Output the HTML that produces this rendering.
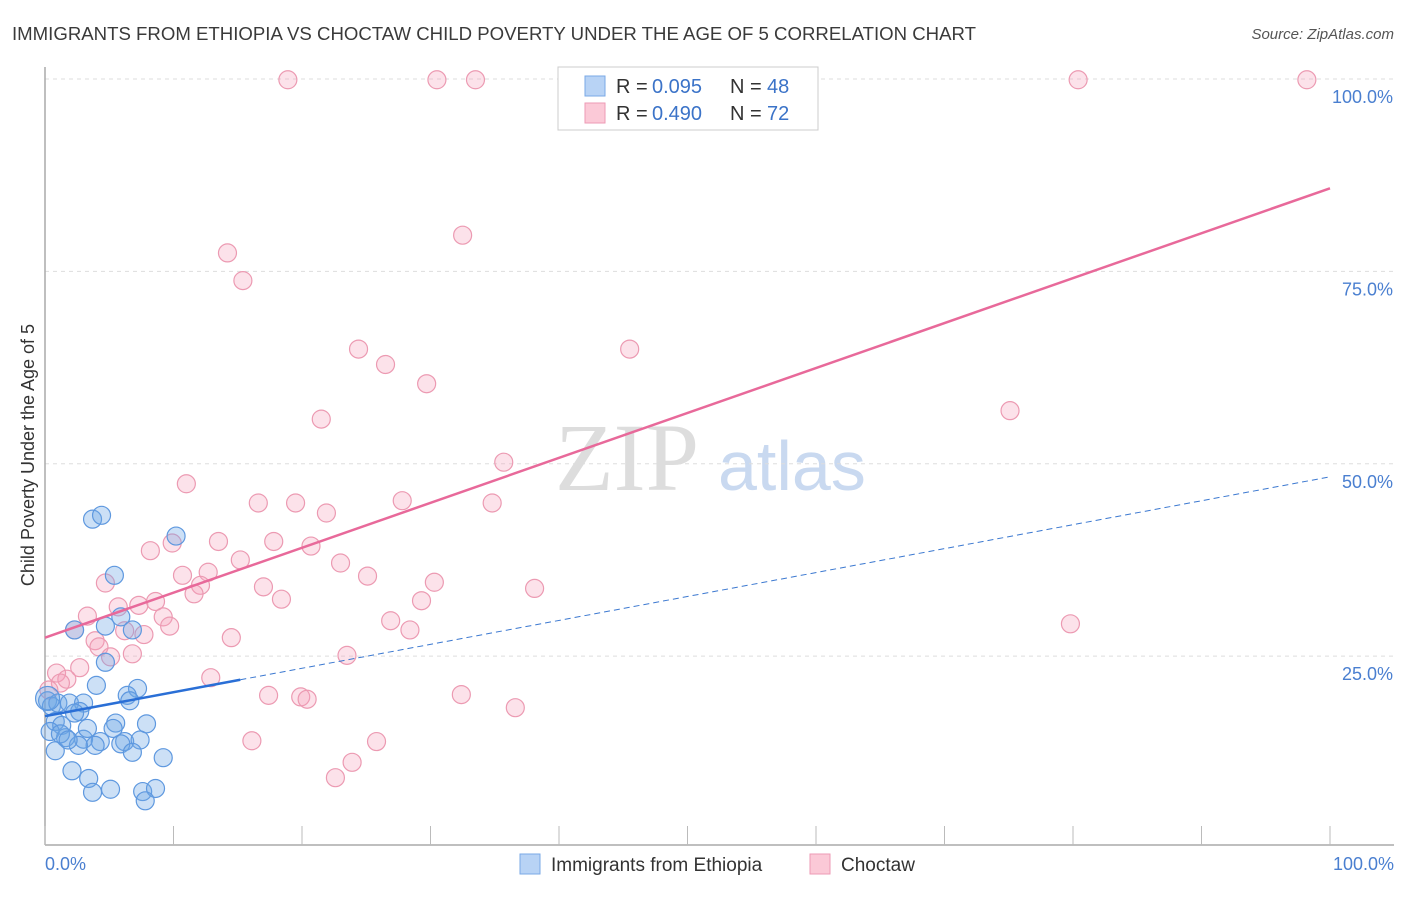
<!DOCTYPE html>
<html><head><meta charset="utf-8"><style>
body{margin:0;background:#fff;font-family:"Liberation Sans",sans-serif;}
</style></head><body>
<svg id="chart" width="1406" height="892" xmlns="http://www.w3.org/2000/svg" font-family="Liberation Sans, sans-serif">
<text x="12" y="40" font-size="18" fill="#3a3a3a" textLength="964" lengthAdjust="spacingAndGlyphs">IMMIGRANTS FROM ETHIOPIA VS CHOCTAW CHILD POVERTY UNDER THE AGE OF 5 CORRELATION CHART</text>
<text x="1394" y="39" font-size="15" fill="#555" text-anchor="end" font-style="italic">Source: ZipAtlas.com</text>
<text x="555" y="490" font-size="96" fill="#ddd" style="font-family:'Liberation Serif',serif">ZIP</text>
<text x="718" y="490" font-size="70" fill="#c9d9f0">atlas</text>
<g id="grid"></g><g id="marks"></g>
<text transform="translate(34,455) rotate(-90)" font-size="18" fill="#333" text-anchor="middle">Child Poverty Under the Age of 5</text>
<g>
<rect x="558" y="67" width="260" height="63" fill="#fff" stroke="#ccc"/>
<rect x="585" y="76" width="20" height="20" fill="#b8d3f5" stroke="#7aa8e6"/>
<rect x="585" y="103" width="20" height="20" fill="#fbc9d7" stroke="#ee9ab4"/>
<text y="93" font-size="20" fill="#333"><tspan x="616">R =</tspan><tspan x="652" fill="#3b73c8">0.095</tspan><tspan x="730">N =</tspan><tspan x="767" fill="#3b73c8">48</tspan></text>
<text y="120" font-size="20" fill="#333"><tspan x="616">R =</tspan><tspan x="652" fill="#3b73c8">0.490</tspan><tspan x="730">N =</tspan><tspan x="767" fill="#3b73c8">72</tspan></text>
</g>
<g>
<rect x="520" y="854" width="20" height="20" fill="#b8d3f5" stroke="#7aa8e6"/>
<text x="551" y="871" font-size="19" fill="#333">Immigrants from Ethiopia</text>
<rect x="810" y="854" width="20" height="20" fill="#fbc9d7" stroke="#ee9ab4"/>
<text x="841" y="871" font-size="19" fill="#333">Choctaw</text>
</g>
</svg>
<script>
const xTicks=[0,10,20,30,40,50,60,70,80,90,100];
const yTicks=[25,50,75,100];
const yTickLabels=["25.0%","50.0%","75.0%","100.0%"];
const blueX=[3.7,4.4,5.4,10.2,5.9,2.3,4.7,6.8,4.7,4.0,7.2,6.4,6.6,0.2,0.5,1.0,1.9,3.0,2.7,0.8,1.3,0.4,1.6,3.0,5.5,7.9,3.3,4.3,3.9,6.2,5.9,7.4,2.6,0.8,6.8,9.2,2.1,3.4,3.7,5.1,7.6,8.6,7.8,0.2,1.2,2.3,5.3,1.8];
const blueY=[42.8,43.3,35.5,40.6,30.1,28.4,28.9,28.4,24.2,21.2,20.8,19.9,19.2,19.2,18.5,18.9,18.9,18.9,17.8,16.5,16.0,15.2,14.4,14.2,16.3,16.2,15.6,13.9,13.4,13.9,13.6,14.1,13.4,12.7,12.5,11.8,10.1,9.1,7.3,7.7,7.4,7.8,6.2,19.5,14.9,17.6,15.6,14.1];
const pinkX=[18.9,30.5,33.5,80.4,98.2,32.5,14.2,15.4,24.4,45.5,26.5,29.7,75.1,21.5,35.7,11.0,34.8,16.6,19.5,21.9,27.8,9.9,8.2,13.5,17.8,20.7,15.2,23.0,10.7,12.7,12.1,25.1,30.3,4.7,17.0,11.6,18.4,29.3,38.1,8.6,5.7,7.3,3.3,9.2,9.7,2.3,6.2,7.7,14.5,26.9,28.4,3.9,4.2,5.1,6.8,23.5,79.8,0.9,2.7,1.7,1.2,12.9,32.4,17.4,19.9,20.4,36.6,16.1,25.8,23.9,22.6,0.3];
const pinkY=[99.9,99.9,99.9,99.9,99.9,79.7,77.4,73.8,64.9,64.9,62.9,60.4,56.9,55.8,50.2,47.4,44.9,44.9,44.9,43.6,45.2,39.7,38.7,39.9,39.9,39.3,37.5,37.1,35.5,35.9,34.2,35.4,34.6,34.5,34.0,33.1,32.4,32.2,33.8,32.1,31.4,31.6,30.2,30.1,28.9,28.4,28.3,27.8,27.4,29.6,28.4,27.0,26.2,24.9,25.3,25.1,29.2,22.8,23.5,22.0,21.5,22.2,20.0,19.9,19.7,19.4,18.3,14.0,13.9,11.2,9.2,20.6];
const blueLine=[17.2,48.3], blueSolidEnd=15.2;
const pinkLine=[27.4,85.8];
const X0=45,X1=1330,Y0=848.5,Y100=79;
const sx=v=>X0+(X1-X0)*v/100, sy=v=>Y0-(Y0-Y100)*v/100;
const NS="http://www.w3.org/2000/svg";
function mk(t,a,p){const e=document.createElementNS(NS,t);for(const k in a)e.setAttribute(k,a[k]);p.appendChild(e);return e;}
const grid=document.getElementById('grid'),marks=document.getElementById('marks');
yTicks.forEach((v,i)=>{
 const l=mk('line',{x1:X0,x2:1394,y1:sy(v),y2:sy(v),stroke:'#ddd','stroke-dasharray':'4,4'},grid);
 
 
 const t=mk('text',{x:1393,y:sy(v)+24,'font-size':18,fill:'#4a7fd0','text-anchor':'end'},grid);
 t.textContent=yTickLabels[i];
 
 
});
const ax=mk('line',{x1:X0,x2:1394,y1:845,y2:845,stroke:'#aaa','stroke-width':1.5},grid);


const ay=mk('line',{x1:X0,x2:X0,y1:67,y2:845,stroke:'#aaa','stroke-width':1.5},grid);


xTicks.forEach(v=>{const l=mk('line',{x1:sx(v),x2:sx(v),y1:826,y2:845,stroke:'#bbb'},grid);
 
 });
[["0.0%",sx(0),'start'],["100.0%",1394,'end']].forEach(a=>{const t=mk('text',{x:a[1],y:870,'font-size':18,fill:'#4a7fd0','text-anchor':a[2]},grid);t.textContent=a[0];
 
 });
pinkX.forEach((x,i)=>{const c=mk('circle',{cx:sx(x),cy:sy(pinkY[i]),r:9,fill:'rgba(245,160,185,0.3)',stroke:'#ec9ab2','stroke-width':1.2},marks);
 
 });
blueX.forEach((x,i)=>{const c=mk('circle',{cx:sx(x),cy:sy(blueY[i]),r:i==43?12:9,fill:'rgba(110,165,230,0.35)',stroke:'#5e98df','stroke-width':1.2},marks);
 
 });
const by=x=>blueLine[0]+(blueLine[1]-blueLine[0])*x/100;
const bd=mk('line',{x1:sx(blueSolidEnd),y1:sy(by(blueSolidEnd)),x2:sx(100),y2:sy(by(100)),stroke:'#3b78d0','stroke-width':1,'stroke-dasharray':'6,4'},marks);


const bs=mk('line',{x1:sx(0),y1:sy(by(0)),x2:sx(blueSolidEnd),y2:sy(by(blueSolidEnd)),stroke:'#2a6fd6','stroke-width':2.5},marks);


const pl=mk('line',{x1:sx(0),y1:sy(pinkLine[0]),x2:sx(100),y2:sy(pinkLine[1]),stroke:'#e8699a','stroke-width':2.5},marks);


</script>
</body></html>
